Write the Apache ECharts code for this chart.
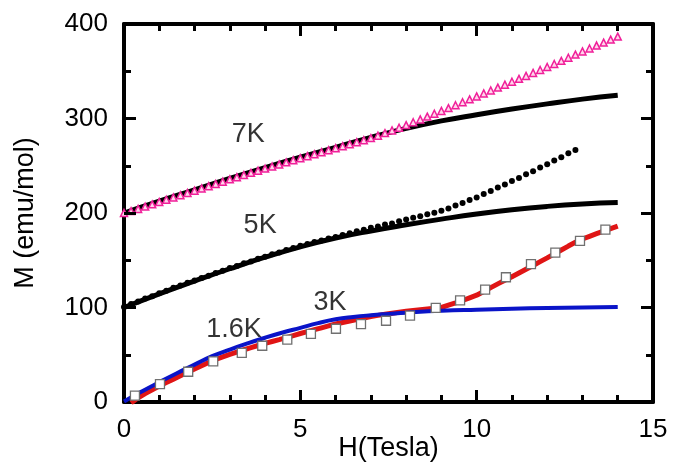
<!DOCTYPE html>
<html>
<head>
<meta charset="utf-8">
<script src="https://cdn.jsdelivr.net/npm/echarts@6/dist/echarts.min.js"></script>
<style>html,body{margin:0;padding:0;background:#fff;}#c{width:676px;height:465px;}</style>
</head>
<body>
<div id="c"></div>
<script>
// ---- data ----
const xTicks = [0, 5, 10, 15];
const yTicks = [0, 100, 200, 300, 400];
const xMinorStep = 1;
const yMinorStep = 50;

const line7H = [0,1,2,3,4,5,6,7,8,9,10,11,12,13,14];
const line7M = [200,212.5,224.5,236.5,248,259,269.5,280,289.5,297.5,304,310,315.5,320.5,324.5];

const tri7H = [0,0.2,0.4,0.6,0.8,1,1.2,1.4,1.6,1.8,2,2.2,2.4,2.6,2.8,3,3.2,3.4,3.6,3.8,4,4.2,4.4,4.6,4.8,5,5.2,5.4,5.6,5.8,6,6.2,6.4,6.6,6.8,7,7.2,7.4,7.6,7.8,8,8.2,8.4,8.6,8.8,9,9.2,9.4,9.6,9.8,10,10.2,10.4,10.6,10.8,11,11.2,11.4,11.6,11.8,12,12.2,12.4,12.6,12.8,13,13.2,13.4,13.6,13.8,14];
const tri7M = [200,202,204.3,206.8,209.2,211.6,214,216.4,218.8,221.2,223.6,226,228.4,230.8,233.2,235.6,237.9,240.2,242.5,244.8,247,249.2,251.4,253.6,255.8,258,260.1,262.2,264.3,266.4,268.6,270.7,272.8,274.9,277,279.3,281.8,284.6,287.4,290.2,293,296,299,302,305,308,311,314,317.2,320.3,323.4,326.5,329.6,332.7,335.8,338.9,342,345.1,348.2,351.3,354.5,357.7,361,364.3,367.6,371,374.1,377.2,380.3,383.5,386.7];

const line5H = [0,1,2,3,4,5,6,7,8,9,10,11,12,13,14];
const line5M = [100,114.5,128,141,153.2,164.2,173.5,181,187.5,193.5,199,203.5,207,209.5,211];

const dot5H = [0,0.2,0.4,0.6,0.8,1,1.2,1.4,1.6,1.8,2,2.2,2.4,2.6,2.8,3,3.2,3.4,3.6,3.8,4,4.2,4.4,4.6,4.8,5,5.2,5.4,5.6,5.8,6,6.2,6.4,6.6,6.8,7,7.2,7.4,7.6,7.8,8,8.2,8.4,8.6,8.8,9,9.2,9.4,9.6,9.8,10,10.2,10.4,10.6,10.8,11,11.2,11.4,11.6,11.8,12,12.2,12.4,12.6,12.8];
const dot5M = [100.5,103.8,106.3,109.6,112,115.2,117.8,120.9,123.2,126.1,128.5,131.3,133.7,136.6,138.8,141.8,144,146.8,148.8,151.5,153.6,156.3,158.3,160.9,162.9,165.4,167.2,169.4,171,173.1,174.5,176.8,178.5,180.8,182.3,184.3,185.7,187.7,189,191.3,193,195.1,196.6,198.6,200.2,202.3,204.8,207.9,210.5,213.8,216.5,220.2,223.3,227,230.1,233.8,237.1,241,244.3,248.2,251.5,255.6,259.1,263.2,266.7];

const blueH = [0,0.5,1,1.5,2,2.5,3,3.5,4,4.5,5,5.5,6,6.5,7,7.5,8,9,10,11,12,13,14];
const blueM = [0.5,11,21,30.5,39.5,48.5,55.5,62,68,73.5,78.5,83.5,87.5,90,91.8,93.2,94.5,96.5,97.7,98.7,99.4,100,100.5];

const redH = [0.2,0.4,0.6,0.8,1,1.2,1.4,1.6,1.8,2,2.2,2.4,2.6,2.8,3,3.2,3.4,3.6,3.8,4,4.2,4.4,4.6,4.8,5,5.2,5.4,5.6,5.8,6,6.2,6.4,6.6,6.8,7,7.2,7.4,7.6,7.8,8,8.2,8.4,8.6,8.8,9,9.2,9.4,9.6,9.8,10,10.2,10.4,10.6,10.8,11,11.2,11.4,11.6,11.8,12,12.2,12.4,12.6,12.8,13,13.2,13.4,13.6,13.8,14];
const redM = [-1,4.5,9,13,17,20.6,24.2,27.8,31.4,35,38.4,41.8,45,47.8,50.5,52.9,55.3,57.6,59.8,62,64,66,68.1,70.3,72.5,74.5,76.5,78.5,80.5,82.5,84.1,85.7,87.3,88.9,90.5,91.7,92.9,94,95,96,96.8,97.6,98.4,99.2,100,102.4,104.8,107.4,110.2,113,117,121,125,128.8,132.5,136.5,140.5,144.5,148.5,152.5,156.7,160.9,165,169,172.5,175.3,178.1,180.8,183.4,186];

const sqH = [0.31,1.02,1.82,2.53,3.34,3.92,4.63,5.30,6.01,6.72,7.43,8.11,8.84,9.53,10.24,10.83,11.54,12.23,12.93,13.65];
const sqM = [6.7,19,32,43,52,59.5,66,72,77.5,82.5,86,91.5,99.5,107.5,119,132,146,158,170.5,182.5];

const labelText = ['7K','5K','3K','1.6K'];
const labelH = [3.52,3.86,5.84,3.12];
const labelM = [283,187,105,77];

// ---- build ----
const pairs = (xs, ys) => xs.map((x, i) => [x, ys[i]]);
const FONT = 'Liberation Sans, Arial, sans-serif';
const GRID = {left: 124, right: 23, top: 24, bottom: 63};
const gridW = 676 - GRID.left - GRID.right;
const gridH = 465 - GRID.top - GRID.bottom;
const xmin = xTicks[0], xmax = xTicks[xTicks.length - 1];
const ymin = yTicks[0], ymax = yTicks[yTicks.length - 1];

// inward frame ticks as short segments in data units (major 12 px, minor 7 px)
const pxToH = (xmax - xmin) / gridW;
const pxToM = (ymax - ymin) / gridH;
const tickSegs = [];
for (let v = xmin + xMinorStep; v < xmax - 1e-9; v += xMinorStep) {
  const len = (xTicks.indexOf(v) >= 0 ? 12 : 7) * pxToM;
  tickSegs.push({coords: [[v, ymin], [v, ymin + len]]});
  tickSegs.push({coords: [[v, ymax], [v, ymax - len]]});
}
for (let v = ymin + yMinorStep; v < ymax - 1e-9; v += yMinorStep) {
  const len = (yTicks.indexOf(v) >= 0 ? 12 : 7) * pxToH;
  tickSegs.push({coords: [[xmin, v], [xmin + len, v]]});
  tickSegs.push({coords: [[xmax, v], [xmax - len, v]]});
}

const chart = echarts.init(document.getElementById('c'), null, {renderer: 'canvas'});

const xRange = {type: 'value', min: xmin, max: xmax, interval: 5};
const yRange = {type: 'value', min: ymin, max: ymax, interval: 100};
const lineAxis = {
  axisLine: {show: true, onZero: false, lineStyle: {color: '#000', width: 4}},
  axisTick: {show: false}, minorTick: {show: false},
  splitLine: {show: false}, minorSplitLine: {show: false}
};

const option = {
  animation: false,
  backgroundColor: '#fff',
  grid: Object.assign({containLabel: false, outerBoundsMode: 'none'}, GRID),
  xAxis: [
    Object.assign({}, xRange, lineAxis, {
      position: 'bottom',
      name: 'H(Tesla)', nameLocation: 'middle', nameGap: 33, nameMoveOverlap: false,
      nameTextStyle: {fontFamily: FONT, fontSize: 27, color: '#000'},
      axisLabel: {show: true, margin: 15, fontFamily: FONT, fontSize: 26, color: '#000'}
    }),
    Object.assign({}, xRange, lineAxis, {position: 'top', axisLabel: {show: false}})
  ],
  yAxis: [
    Object.assign({}, yRange, lineAxis, {
      position: 'left',
      name: 'M (emu/mol)', nameLocation: 'middle', nameGap: 85, nameRotate: 90, nameMoveOverlap: false,
      nameTextStyle: {fontFamily: FONT, fontSize: 27, color: '#000'},
      axisLabel: {show: true, margin: 16, fontFamily: FONT, fontSize: 26, color: '#000'}
    }),
    Object.assign({}, yRange, lineAxis, {position: 'right', axisLabel: {show: false}})
  ],
  series: [
    {
      name: '5K fit', type: 'line', smooth: true, showSymbol: false, symbol: 'none',
      data: pairs(line5H, line5M), lineStyle: {color: '#000', width: 5}, z: 2
    },
    {
      name: '5K', type: 'scatter', symbol: 'circle', symbolSize: 6,
      data: pairs(dot5H, dot5M), itemStyle: {color: '#000', opacity: 1, borderWidth: 0}, z: 3
    },
    {
      name: '7K fit', type: 'line', smooth: true, showSymbol: false, symbol: 'none',
      data: pairs(line7H, line7M), lineStyle: {color: '#000', width: 5}, z: 2
    },
    {
      name: '7K', type: 'scatter', symbol: 'triangle', symbolSize: 7,
      data: pairs(tri7H, tri7M),
      itemStyle: {color: '#ffd6ea', borderColor: '#f0209a', borderWidth: 1.5, opacity: 1}, z: 4
    },
    {
      name: '3K', type: 'line', smooth: false, showSymbol: false, symbol: 'none',
      data: pairs(redH, redM), lineStyle: {color: '#e01515', width: 5}, z: 3
    },
    {
      name: '1.6K', type: 'line', smooth: true, showSymbol: false, symbol: 'none',
      data: pairs(blueH, blueM), lineStyle: {color: '#0a14c8', width: 4}, z: 4
    },
    {
      name: 'squares', type: 'scatter', symbol: 'rect', symbolSize: 9,
      data: pairs(sqH, sqM),
      itemStyle: {color: '#fff', borderColor: '#707070', borderWidth: 1.3, opacity: 1}, z: 5
    },
    {
      name: 'labels', type: 'scatter', symbolSize: 0, silent: true,
      data: labelText.map((t, i) => ({value: [labelH[i], labelM[i]], name: t})),
      label: {show: true, position: 'inside', formatter: p => p.name,
        fontFamily: FONT, fontSize: 27, color: '#000'},
      z: 6
    },
    {
      name: 'frame ticks', type: 'lines', coordinateSystem: 'cartesian2d', silent: true,
      polyline: false, data: tickSegs, z: 10,
      lineStyle: {color: '#000', width: 3, opacity: 1, curveness: 0}
    }
  ]
};
chart.setOption(option);
</script>
</body>
</html>
